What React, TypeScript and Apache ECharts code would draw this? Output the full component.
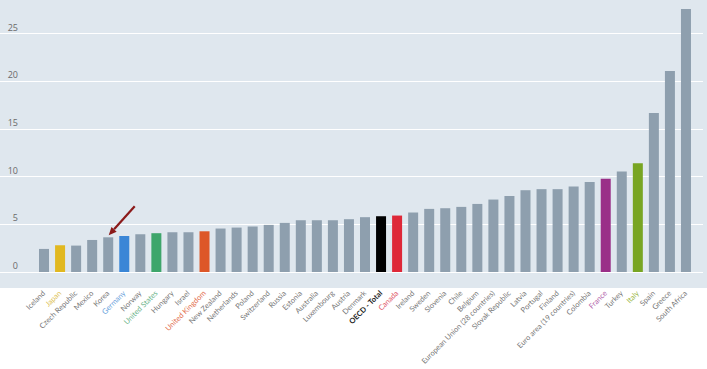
import React, { useEffect, useRef } from "react";
import * as echarts from "echarts";

const categories = [
  "Iceland", "Japan", "Czech Republic", "Mexico", "Korea", "Germany", "Norway",
  "United States", "Hungary", "Israel", "United Kingdom", "New Zealand", "Netherlands",
  "Poland", "Switzerland", "Russia", "Estonia", "Australia", "Luxembourg", "Austria",
  "Denmark", "OECD - Total", "Canada", "Ireland", "Sweden", "Slovenia", "Chile",
  "Belgium", "European Union (28 countries)", "Slovak Republic", "Latvia", "Portugal",
  "Finland", "Euro area (19 countries)", "Colombia", "France", "Turkey", "Italy",
  "Spain", "Greece", "South Africa",
];

const values = [
  2.42, 2.8, 2.77, 3.36, 3.64, 3.78, 3.96, 4.07, 4.17, 4.17, 4.27, 4.56, 4.66,
  4.77, 4.94, 5.15, 5.43, 5.43, 5.43, 5.54, 5.75, 5.85, 5.92, 6.24, 6.62, 6.69,
  6.83, 7.14, 7.6, 7.98, 8.58, 8.69, 8.69, 8.97, 9.45, 9.77, 10.55, 11.42,
  16.67, 21.08, 27.6,
];

const yTicks = [0, 5, 10, 15, 20, 25, 30];
const arrowTarget = "Korea";

const barColors: Record<string, string> = {
  Japan: "#e1b820",
  Germany: "#3a86d6",
  "United States": "#3ea66b",
  "United Kingdom": "#dd5728",
  "OECD - Total": "#000000",
  Canada: "#de2838",
  France: "#9a2f88",
  Italy: "#78a522",
};
const labelColors: Record<string, string> = {
  Japan: "#dcc050",
  Germany: "#6aa3dc",
  "United States": "#6ab48a",
  "United Kingdom": "#e26c4c",
  "OECD - Total": "#222222",
  Canada: "#e05666",
  France: "#b060a8",
  Italy: "#9cb84a",
};

export default function App() {
  const ref = useRef<HTMLDivElement>(null);
  useEffect(() => {
    if (!ref.current) return;
    const chart = echarts.init(ref.current, undefined, { renderer: "svg" });
    const yMin = yTicks[0];
    const yMax = yTicks[yTicks.length - 1];
    const yInterval = yTicks[1] - yTicks[0];
    const bg = {
      type: "rect",
      z: -100,
      shape: { x: 0, y: 0, width: 707, height: 288 },
      style: { fill: "#dfe7ee" },
      silent: true,
    };
    chart.setOption({
      animation: false,
      textStyle: { fontFamily: "Lato, Open Sans, sans-serif" },
      grid: [
        { left: 36, width: 658, top: -14, bottom: 97, outerBoundsMode: "none", containLabel: false },
        { left: 0, right: 4, top: -14, bottom: 97, outerBoundsMode: "none", containLabel: false },
      ],
      xAxis: [
        {
          type: "category",
          gridIndex: 0,
          data: categories.map((c) => ({
            value: c,
            textStyle: {
              color: labelColors[c] || "#767676",
              fontWeight: c === "OECD - Total" ? "bold" : "normal",
            },
          })),
          axisLine: { show: false },
          axisTick: { show: false },
          axisLabel: {
            interval: 0,
            rotate: 45,
            fontSize: 7.5,
            margin: 20,
            color: "#767676",
            fontFamily: "Lato, sans-serif",
          },
        },
        { type: "value", gridIndex: 1, show: false, min: 0, max: 1 },
      ],
      yAxis: [
        {
          type: "value",
          gridIndex: 0,
          min: yMin,
          max: yMax,
          interval: yInterval,
          axisLine: { show: false },
          axisTick: { show: false },
          splitLine: { show: false },
          axisLabel: {
            color: "#6a6a6a",
            fontSize: 9,
            margin: 18,
            verticalAlign: "bottom",
            padding: [0, 0, 2, 0],
            fontFamily: "Open Sans, sans-serif",
            formatter: (v: number) => (v >= yMax ? "" : String(v)),
          },
        },
        {
          type: "value",
          gridIndex: 1,
          min: yMin,
          max: yMax,
          interval: yInterval,
          axisLine: { show: false },
          axisTick: { show: false },
          axisLabel: { show: false },
          splitLine: { show: true, lineStyle: { color: "#ffffff", width: 1.2 } },
        },
      ],
      series: [
        {
          type: "bar",
          xAxisIndex: 0,
          yAxisIndex: 0,
          barWidth: 10,
          z: 5,
          data: categories.map((c, i) => ({
            value: values[i],
            itemStyle: { color: barColors[c] || "#8e9fae" },
          })),
        },
      ],
      graphic: [bg],
    });

    const idx = categories.indexOf(arrowTarget);
    const p = chart.convertToPixel({ seriesIndex: 0 }, [arrowTarget, values[idx]]) as number[];
    if (p) {
      const tip = [p[0] + 0.5, p[1] - 2];
      const tail = [tip[0] + 26, tip[1] - 29];
      const dx = tail[0] - tip[0];
      const dy = tail[1] - tip[1];
      const len = Math.sqrt(dx * dx + dy * dy);
      const ux = dx / len;
      const uy = dy / len;
      const hl = 8;
      const hw = 3.5;
      const bx = tip[0] + ux * hl;
      const by = tip[1] + uy * hl;
      chart.setOption({
        graphic: [
          bg,
          {
            type: "line",
            z: 100,
            shape: { x1: bx, y1: by, x2: tail[0], y2: tail[1] },
            style: { stroke: "#8b1a1a", lineWidth: 2.2 },
          },
          {
            type: "polygon",
            z: 100,
            shape: {
              points: [
                [tip[0], tip[1]],
                [bx - uy * hw, by + ux * hw],
                [bx + uy * hw, by - ux * hw],
              ],
            },
            style: { fill: "#8b1a1a" },
          },
        ],
      });
    }
    return () => chart.dispose();
  }, []);
  return (
    <div
      ref={ref}
      style={{ position: "absolute", left: 0, top: 0, width: 707, height: 369, background: "#ffffff" }}
    />
  );
}
